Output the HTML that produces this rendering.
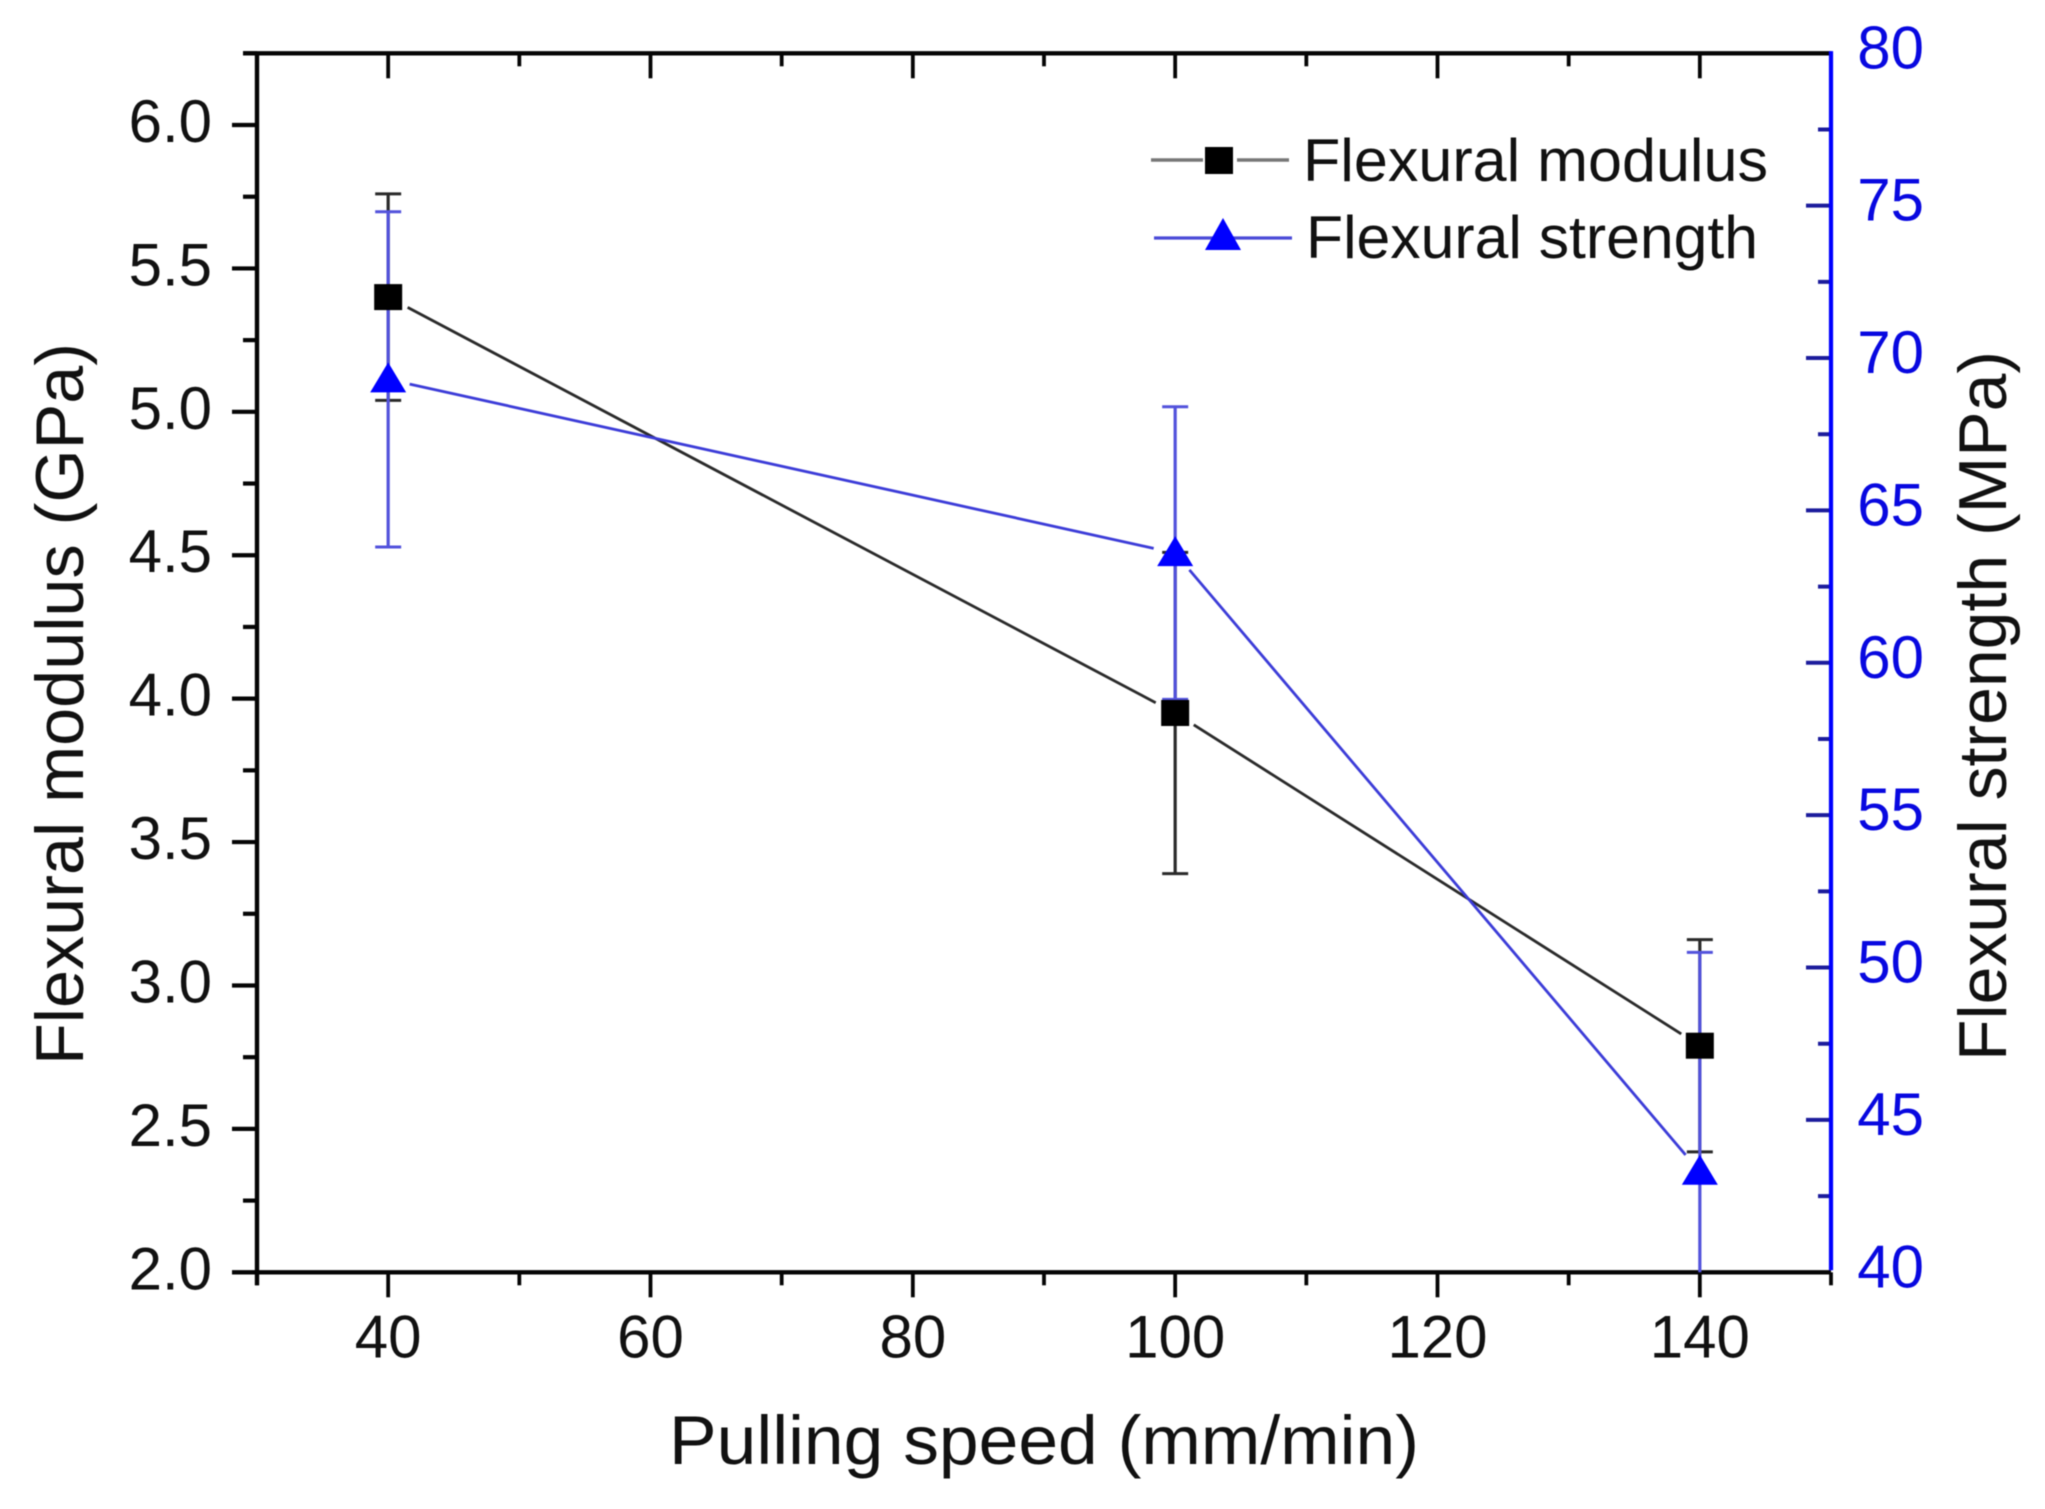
<!DOCTYPE html>
<html lang="en">
<head>
<meta charset="utf-8">
<title>Flexural modulus and strength vs pulling speed</title>
<style>
html,body{margin:0;padding:0;background:#fff;overflow:hidden;}
#chart{display:block;width:2045px;height:1509px;font-family:"Liberation Sans",Arial,sans-serif;filter:blur(0.6px);}
</style>
</head>
<body>
<svg id="chart" xmlns="http://www.w3.org/2000/svg" width="2045" height="1509" viewBox="0 0 2045 1509">
  <rect x="0" y="0" width="2045" height="1509" fill="#ffffff"/>
  <g id="axes"></g>
  <g id="series"></g>
  <text x="83" y="704" transform="rotate(-90 83 704)" font-size="68" text-anchor="middle" textLength="722" lengthAdjust="spacingAndGlyphs" fill="#111">Flexural modulus (GPa)</text>
  <text x="2006" y="706" transform="rotate(-90 2006 706)" font-size="68" text-anchor="middle" textLength="710" lengthAdjust="spacingAndGlyphs" fill="#111">Flexural strength (MPa)</text>
  <text x="669" y="1464" font-size="69" textLength="750" lengthAdjust="spacingAndGlyphs" fill="#111">Pulling speed (mm/min)</text>
  <g>
    <g>
      <line x1="1151" y1="160" x2="1203" y2="160" stroke="#777" stroke-width="3.4"/>
      <line x1="1237" y1="160" x2="1289" y2="160" stroke="#777" stroke-width="3.4"/>
      <rect x="1205" y="147" width="28" height="27" fill="#000"/>
      <text x="1303" y="181" font-size="60" textLength="465" lengthAdjust="spacingAndGlyphs" fill="#111">Flexural modulus</text>
    </g>
    <g>
      <line x1="1154" y1="238" x2="1292" y2="238" stroke="#4a4ad8" stroke-width="3.2"/>
      <polygon points="1223,218 1241,250 1205,250" fill="#0000ff"/>
      <text x="1306" y="258" font-size="60" textLength="452" lengthAdjust="spacingAndGlyphs" fill="#111">Flexural strength</text>
    </g>
  </g>
</svg>
<script>
var pullingSpeeds = [40, 100, 140];
var modulusValues = [5.40, 3.95, 2.79];
var modulusErrors = [0.36, 0.56, 0.37];
var strengthValues = [69.3, 63.6, 43.3];
var strengthErrors = [5.5, 4.8, 7.2];
var xTickLabels = ["40", "60", "80", "100", "120", "140"];
var leftTickLabels = ["2.0", "2.5", "3.0", "3.5", "4.0", "4.5", "5.0", "5.5", "6.0"];
var rightTickLabels = ["40", "45", "50", "55", "60", "65", "70", "75", "80"];

var NS = 'http://www.w3.org/2000/svg';
var plotLeft = 257, plotRight = 1831, plotTop = 53.3, plotBottom = 1272.3;
var xMin = 30, xMax = 150, leftMin = 2, leftMax = 6.25, rightMin = 40, rightMax = 80;

function xScale(v) { return plotLeft + (v - xMin) / (xMax - xMin) * (plotRight - plotLeft); }
function leftScale(v) { return plotBottom - (v - leftMin) / (leftMax - leftMin) * (plotBottom - plotTop); }
function rightScale(v) { return plotBottom - (Math.max(v, rightMin) - rightMin) / (rightMax - rightMin) * (plotBottom - plotTop); }

var axesGroup = document.getElementById('axes');
var seriesGroup = document.getElementById('series');

function drawLine(parent, x1, y1, x2, y2, color, width) {
  var el = document.createElementNS(NS, 'line');
  el.setAttribute('x1', x1);
  el.setAttribute('y1', y1);
  el.setAttribute('x2', x2);
  el.setAttribute('y2', y2);
  el.setAttribute('stroke', color);
  el.setAttribute('stroke-width', width);
  parent.appendChild(el);
  return el;
}

function drawText(parent, x, y, str, anchor, color) {
  var el = document.createElementNS(NS, 'text');
  el.setAttribute('x', x);
  el.setAttribute('y', y);
  el.setAttribute('text-anchor', anchor);
  el.setAttribute('font-size', '60');
  el.setAttribute('fill', color);
  el.textContent = str;
  parent.appendChild(el);
  return el;
}

var AXIS_BLACK = '#050505', AXIS_BLUE = '#0000ff', TICK_BLUE = '#1c1c9c', LABEL_BLUE = '#0808e0', TEXT = '#111111';
var el, i, px, py;

/* top axis */
el = drawLine(axesGroup, plotLeft - 14, plotTop, plotRight, plotTop, AXIS_BLACK, 4.4);


/* bottom axis */
el = drawLine(axesGroup, plotLeft - 25, plotBottom, plotRight, plotBottom, AXIS_BLACK, 4.4);


/* left axis */
el = drawLine(axesGroup, plotLeft, plotTop, plotLeft, plotBottom + 13, AXIS_BLACK, 4.4);



/* x ticks: bottom outward, top inward */
for (i = 0; i <= 12; i++) {
  var xv = xMin + i * 10;
  var isMajorX = i % 2 === 1;
  var lenX = isMajorX ? 25 : 13;
  px = xScale(xv);
  el = drawLine(axesGroup, px, plotBottom, px, plotBottom + lenX, AXIS_BLACK, 3.8);
  
  
  el = drawLine(axesGroup, px, plotTop, px, plotTop + lenX, AXIS_BLACK, 3.8);
  
  
}
for (i = 0; i < xTickLabels.length; i++) {
  el = drawText(axesGroup, xScale(Number(xTickLabels[i])), plotBottom + 85, xTickLabels[i], 'middle', TEXT);
  
  
}

/* left ticks */
for (i = 0; i <= 17; i++) {
  var lv = leftMin + i * 0.25;
  var isMajorL = i % 2 === 0;
  py = leftScale(lv);
  if (i === 0) { continue; }
  el = drawLine(axesGroup, plotLeft - (isMajorL ? 25 : 14), py, plotLeft, py, AXIS_BLACK, 4.2);
  
  
}
for (i = 0; i < leftTickLabels.length; i++) {
  el = drawText(axesGroup, 212, leftScale(Number(leftTickLabels[i])) + 17, leftTickLabels[i], 'end', TEXT);
  
  
}

/* right axis */
for (i = 1; i < 16; i++) {
  var rv = rightMin + i * 2.5;
  var isMajorR = i % 2 === 0;
  py = rightScale(rv);
  el = drawLine(axesGroup, plotRight - (isMajorR ? 25 : 13), py, plotRight, py, TICK_BLUE, 4);
  
  
}
el = drawLine(axesGroup, plotRight, plotTop - 2.2, plotRight, plotBottom - 2, AXIS_BLUE, 4.2);


for (i = 0; i < rightTickLabels.length; i++) {
  el = drawText(axesGroup, 1924, rightScale(Number(rightTickLabels[i])) + 15, rightTickLabels[i], 'end', LABEL_BLUE);
  
  
}

/* error bars */
function drawErrorBar(x, yHigh, yLow, color) {
  var group = document.createElementNS(NS, 'g');
  drawLine(group, x, yHigh, x, yLow, color, 3.2);
  drawLine(group, x - 13, yHigh, x + 13, yHigh, color, 3);
  if (yLow < plotBottom - 1) {
    drawLine(group, x - 13, yLow, x + 13, yLow, color, 3);
  }
  seriesGroup.appendChild(group);
  return group;
}
for (i = 0; i < pullingSpeeds.length; i++) {
  el = drawErrorBar(xScale(pullingSpeeds[i]), leftScale(modulusValues[i] + modulusErrors[i]), leftScale(modulusValues[i] - modulusErrors[i]), '#2a2a2a');
  
  
}
for (i = 0; i < pullingSpeeds.length; i++) {
  el = drawErrorBar(xScale(pullingSpeeds[i]), rightScale(strengthValues[i] + strengthErrors[i]), rightScale(strengthValues[i] - strengthErrors[i]), '#5252dc');
  
  
}

/* connecting lines, with the small gap next to each marker */
function drawGappedSegment(x1, y1, x2, y2, color) {
  var dx = x2 - x1, dy = y2 - y1, d = Math.sqrt(dx * dx + dy * dy), gap = 22;
  var ux = dx / d, uy = dy / d;
  return drawLine(seriesGroup, x1 + ux * gap, y1 + uy * gap, x2 - ux * gap, y2 - uy * gap, color, 2.8);
}
for (i = 0; i < pullingSpeeds.length - 1; i++) {
  el = drawGappedSegment(xScale(pullingSpeeds[i]), leftScale(modulusValues[i]), xScale(pullingSpeeds[i + 1]), leftScale(modulusValues[i + 1]), '#2a2a2a');
  
  
}
for (i = 0; i < pullingSpeeds.length - 1; i++) {
  el = drawGappedSegment(xScale(pullingSpeeds[i]), rightScale(strengthValues[i]), xScale(pullingSpeeds[i + 1]), rightScale(strengthValues[i + 1]), '#3c3cd8');
  
  
}

/* markers */
for (i = 0; i < pullingSpeeds.length; i++) {
  px = xScale(pullingSpeeds[i]);
  py = leftScale(modulusValues[i]);
  el = document.createElementNS(NS, 'rect');
  el.setAttribute('x', px - 14);
  el.setAttribute('y', py - 13);
  el.setAttribute('width', 28);
  el.setAttribute('height', 26);
  el.setAttribute('fill', '#000000');
  
  
  seriesGroup.appendChild(el);
}
for (i = 0; i < pullingSpeeds.length; i++) {
  px = xScale(pullingSpeeds[i]);
  py = rightScale(strengthValues[i]);
  el = document.createElementNS(NS, 'polygon');
  el.setAttribute('points', px + ',' + (py - 17) + ' ' + (px + 18) + ',' + (py + 13) + ' ' + (px - 18) + ',' + (py + 13));
  el.setAttribute('fill', '#0000ff');
  
  
  seriesGroup.appendChild(el);
}
</script>
</body>
</html>
